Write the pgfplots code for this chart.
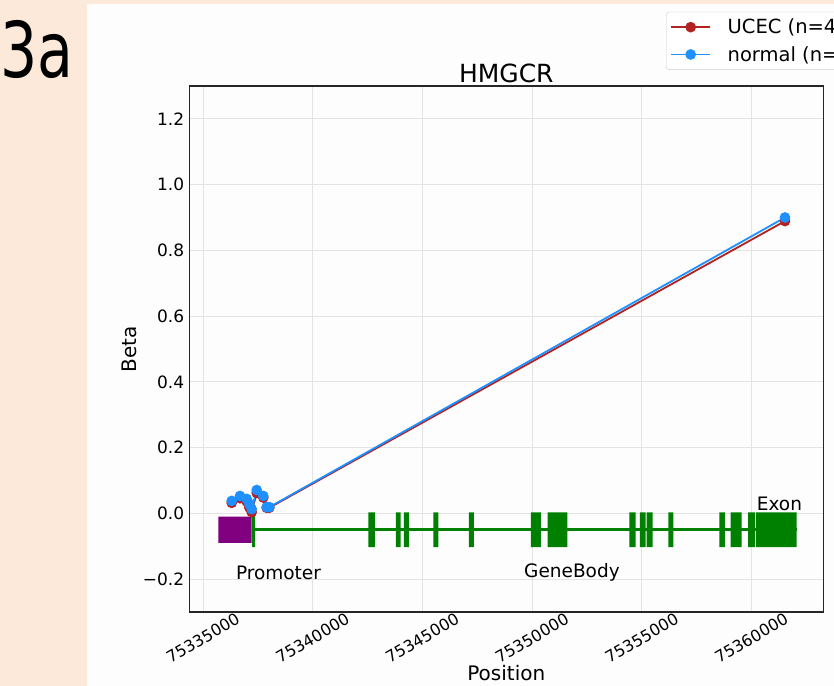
\documentclass[border=0pt]{standalone}
\usepackage{fontspec}
\setmainfont{DejaVu Sans}
\usepackage{pgfplots}
\pgfplotsset{compat=1.18}
\definecolor{peach}{HTML}{FDE9DA}
\definecolor{panel}{HTML}{FDFDFD}
\definecolor{ucec}{HTML}{B22222}
\definecolor{normalc}{HTML}{1E90FF}
\definecolor{exon}{HTML}{008000}
\definecolor{prom}{HTML}{800080}
\definecolor{gridc}{HTML}{E3E3E3}
\begin{document}
\begin{tikzpicture}
\useasboundingbox (0,0) rectangle (834bp,686bp);
\clip (0,0) rectangle (834bp,686bp);
\fill[peach] (0,0) rectangle (834bp,686bp);
\fill[panel] (87bp,0) rectangle (834bp,682bp);
\node[anchor=base west, inner sep=0pt, font=\fontsize{77bp}{80bp}\selectfont] at (0bp,608bp) {\scalebox{0.76}[1]{3a}};
% x values are positions minus 75330000 (tick labels give the full positions)
\begin{axis}[
  width=634bp, height=526bp, scale only axis,
  at={(189.3bp,74bp)}, anchor=south west,
  xmin=4380, xmax=33280, ymin=-0.3, ymax=1.3,
  xtick={5000,10000,15000,20000,25000,30000},
  xticklabels={75335000,75340000,75345000,75350000,75355000,75360000},
  ytick={-0.2,0,0.2,0.4,0.6,0.8,1.0,1.2},
  yticklabels={−0.2,0.0,0.2,0.4,0.6,0.8,1.0,1.2},
  major tick length=0pt,
  grid=major, major grid style={gridc, line width=0.8bp},
  axis line style={black!85, line width=1.4bp},
  tick label style={font=\fontsize{17bp}{20bp}\selectfont},
  xticklabel style={font=\fontsize{16bp}{20bp}\selectfont, anchor=center, yshift=-26bp, rotate=30, inner sep=0pt},
  yticklabel style={anchor=east, inner sep=0pt, xshift=-5bp},
  title={HMGCR},
  every axis title shift=0pt,
  title style={font=\fontsize{25bp}{28bp}\selectfont, at={(0.5,1)}, anchor=base, yshift=3.5bp, inner sep=0pt},
  xlabel={Position},
  xlabel style={font=\fontsize{20bp}{24bp}\selectfont, at={(axis description cs:0.5,0)}, anchor=base, yshift=-68.5bp, inner sep=0pt},
  ylabel={Beta},
  ylabel style={font=\fontsize{20bp}{24bp}\selectfont, at={(axis description cs:-0.084,0.5)}, anchor=base, inner sep=0pt},
  legend style={at={(0.752,1.141)}, anchor=north west, draw=black!20, rounded corners=3bp, fill=white,
    font=\fontsize{19.5bp}{23bp}\selectfont, inner xsep=4bp, inner ysep=5bp, row sep=7bp,
    nodes={inner sep=2bp}, /tikz/every odd column/.style={column sep=14.6bp}},
  legend cell align=left,
  legend image code/.code={\draw[mark repeat=2,mark phase=2] plot coordinates {(0bp,0bp) (19.5bp,0bp) (39bp,0bp)};},
  exonbox/.style={fill=exon, draw=none, forget plot},
]
% promoter
\addplot[fill=prom, draw=none, forget plot] coordinates {(5700,-0.09) (7224,-0.09) (7224,-0.01) (5700,-0.01) (5700,-0.09)};
% gene body line
\addplot[exon, line width=3bp, forget plot] coordinates {(7280,-0.05) (32064,-0.05)};
% exons
\addplot[exonbox] coordinates {(7238,-0.103) (7375,-0.103) (7375,0.003) (7238,0.003) (7238,-0.103)};
\addplot[exonbox] coordinates {(12539,-0.103) (12844,-0.103) (12844,0.003) (12539,0.003) (12539,-0.103)};
\addplot[exonbox] coordinates {(13801,-0.103) (14015,-0.103) (14015,0.003) (13801,0.003) (13801,-0.103)};
\addplot[exonbox] coordinates {(14166,-0.103) (14394,-0.103) (14394,0.003) (14166,0.003) (14166,-0.103)};
\addplot[exonbox] coordinates {(15501,-0.103) (15729,-0.103) (15729,0.003) (15501,0.003) (15501,-0.103)};
\addplot[exonbox] coordinates {(17128,-0.103) (17356,-0.103) (17356,0.003) (17128,0.003) (17128,-0.103)};
\addplot[exonbox] coordinates {(19954,-0.103) (20410,-0.103) (20410,0.003) (19954,0.003) (19954,-0.103)};
\addplot[exonbox] coordinates {(20715,-0.103) (21609,-0.103) (21609,0.003) (20715,0.003) (20715,-0.103)};
\addplot[exonbox] coordinates {(24435,-0.103) (24726,-0.103) (24726,0.003) (24435,0.003) (24435,-0.103)};
\addplot[exonbox] coordinates {(24922,-0.103) (25182,-0.103) (25182,0.003) (24922,0.003) (24922,-0.103)};
\addplot[exonbox] coordinates {(25227,-0.103) (25501,-0.103) (25501,0.003) (25227,0.003) (25227,-0.103)};
\addplot[exonbox] coordinates {(26212,-0.103) (26440,-0.103) (26440,0.003) (26212,0.003) (26212,-0.103)};
\addplot[exonbox] coordinates {(28537,-0.103) (28797,-0.103) (28797,0.003) (28537,0.003) (28537,-0.103)};
\addplot[exonbox] coordinates {(29057,-0.103) (29558,-0.103) (29558,0.003) (29057,0.003) (29057,-0.103)};
\addplot[exonbox] coordinates {(29850,-0.103) (30155,-0.103) (30155,0.003) (29850,0.003) (29850,-0.103)};
\addplot[exonbox] coordinates {(30205,-0.103) (32064,-0.103) (32064,0.003) (30205,0.003) (30205,-0.103)};
% methylation series
\addplot[ucec, line width=1.8bp, mark=*, mark size=4.4bp, mark options={fill=ucec, draw=ucec}] coordinates {
 (6313,0.032) (6691,0.046) (6996,0.036) (7115,0.018) (7224,0.004) (7452,0.062) (7753,0.048) (7908,0.017) (8026,0.017) (31532,0.889)};
\addlegendentry{UCEC (n=438)}
\addplot[normalc, line width=1.8bp, mark=*, mark size=4.4bp, mark options={fill=normalc, draw=normalc}] coordinates {
 (6313,0.038) (6691,0.053) (6996,0.044) (7115,0.029) (7224,0.013) (7452,0.071) (7753,0.053) (7908,0.019) (8026,0.019) (31532,0.900)};
\addlegendentry{normal (n=46)}
\node[font=\fontsize{18.5bp}{22bp}\selectfont] at (axis cs:8446,-0.181) {Promoter};
\node[font=\fontsize{18.5bp}{22bp}\selectfont] at (axis cs:21823,-0.181) {GeneBody};
\node[font=\fontsize{18.5bp}{22bp}\selectfont] at (axis cs:31281,0.029) {Exon};
\end{axis}
\end{tikzpicture}
\end{document}
